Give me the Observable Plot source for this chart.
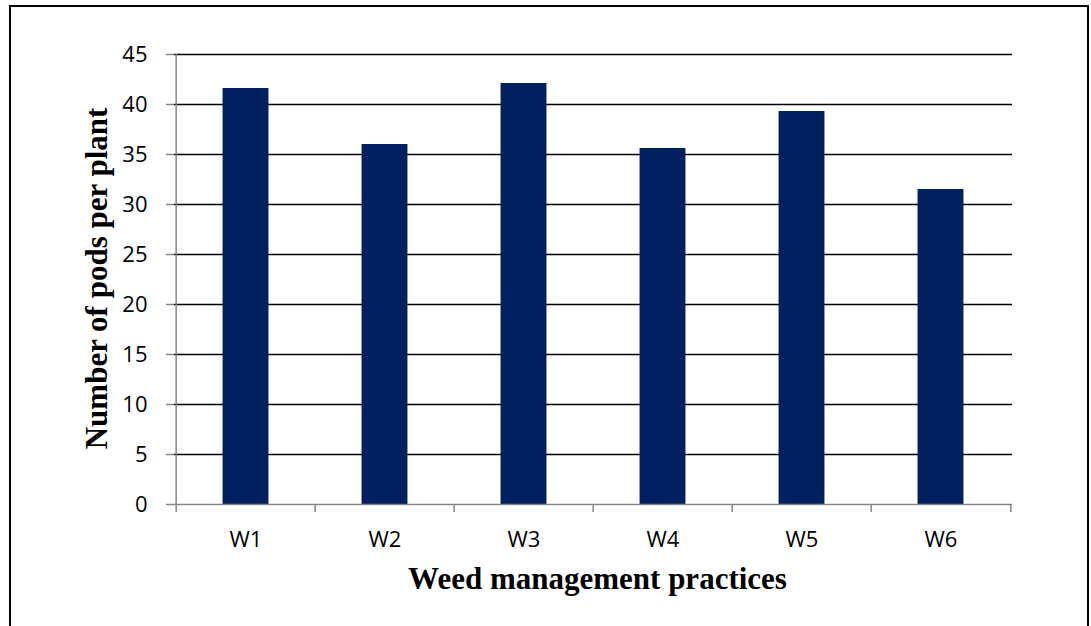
<!DOCTYPE html>
<html>
<head>
<meta charset="utf-8">
<script src="https://cdn.jsdelivr.net/npm/d3@7"></script>
<script src="https://cdn.jsdelivr.net/npm/@observablehq/plot@0.6"></script>
<style>
  html, body { margin: 0; padding: 0; background: #fff; }
  #frame { position: absolute; left: 9px; top: 5px; width: 1076px; height: 700px;
           border: 2px solid #000; border-bottom: none; }
  #chart { position: absolute; left: 0; top: 0; }
  #chart svg { background: transparent; overflow: visible; }
  #chart g[aria-label="y-axis tick label"] text,
  #chart g[aria-label="x-axis tick label"] text { fill: #000; }
</style>
</head>
<body>
<div id="frame"></div>
<div id="chart"></div>
<script>
const categories = ["W1", "W2", "W3", "W4", "W5", "W6"];
const values = [41.6, 36.0, 42.1, 35.6, 39.3, 31.5];
const yTicks = [0, 5, 10, 15, 20, 25, 30, 35, 40, 45];
const xTitle = "Weed management practices";
const yTitle = "Number of pods per plant";

const data = categories.map((c, i) => ({cat: c, value: values[i]}));

const W = 1091, H = 626;
const mL = 174, mR = W - 1012, mT = 54, mB = H - 504;
const bw = (W - mL - mR) / categories.length;
const axisGrey = "#868686";
const tickFont = "'Open Sans', 'Noto Sans', sans-serif";
const titleFont = "'Liberation Serif', 'Times New Roman', serif";

const plot = Plot.plot({
  width: W,
  height: H,
  marginLeft: mL,
  marginRight: mR,
  marginTop: mT,
  marginBottom: mB,
  style: {background: "transparent"},
  x: {type: "band", domain: categories, padding: 0},
  y: {domain: [0, 45]},
  marks: [
    Plot.ruleY(yTicks.filter(d => d > 0), {stroke: "#000", strokeWidth: 1.5}),
    Plot.barY(data, {x: "cat", y: "value", fill: "#002060",
      insetLeft: bw / 3, insetRight: bw / 3}),
    // y axis line
    Plot.ruleX([categories[0]], {x: d => d, dx: -bw / 2, stroke: axisGrey, strokeWidth: 1.5}),
    // x axis baseline
    Plot.ruleY([0], {stroke: axisGrey, strokeWidth: 1.5}),
    // category boundary ticks
    Plot.ruleX(categories, {x: d => d, dx: -bw / 2, y1: 0, y2: 0, insetBottom: -8,
      stroke: axisGrey, strokeWidth: 1.5}),
    Plot.ruleX([categories[categories.length - 1]], {x: d => d, dx: bw / 2, y1: 0, y2: 0,
      insetBottom: -8, stroke: axisGrey, strokeWidth: 1.5}),
    Plot.axisY({ticks: yTicks, tickSize: 8, tickPadding: 19, stroke: axisGrey,
      strokeWidth: 1.5, fontSize: 22, fontFamily: tickFont, label: null, tickFormat: d => String(d)}),
    Plot.axisX({tickSize: 0, tickPadding: 27, fontSize: 22, fontFamily: tickFont, label: null}),
    Plot.text([xTitle], {frameAnchor: "bottom", textAnchor: "middle", lineAnchor: "middle",
      dx: 4, dy: 75, fontSize: 31, fontWeight: "bold", fontFamily: titleFont, fill: "#000"}),
    Plot.text([yTitle], {frameAnchor: "left", textAnchor: "middle", lineAnchor: "middle",
      rotate: -90, dx: -77, dy: -1, fontSize: 31,
      fontWeight: "bold", fontFamily: titleFont, fill: "#000"})
  ]
});

document.getElementById("chart").appendChild(plot);
</script>
</body>
</html>
